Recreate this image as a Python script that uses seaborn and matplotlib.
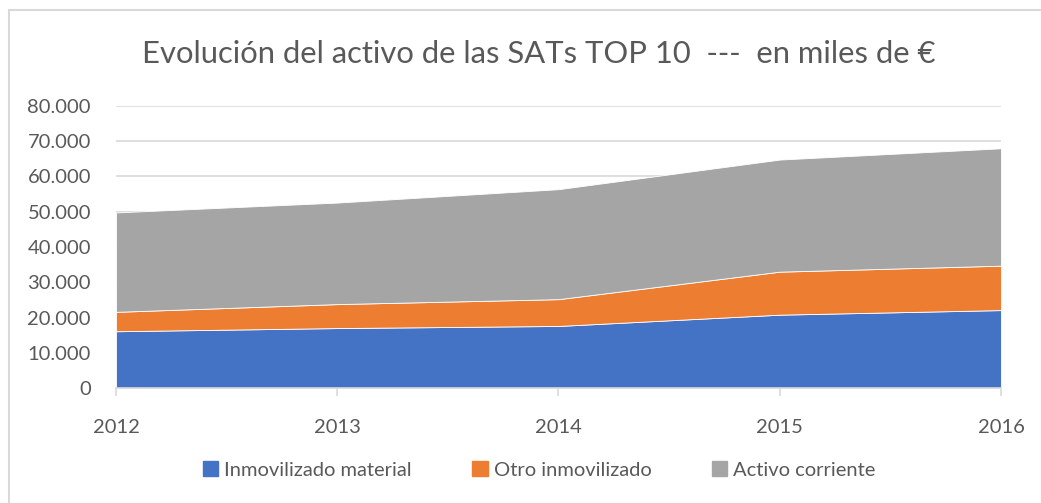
import numpy as np
import pandas as pd
import seaborn as sns
import matplotlib.pyplot as plt
from matplotlib.patches import Rectangle, Patch
from matplotlib.ticker import FuncFormatter

# data (miles de euros)
years = [2012, 2013, 2014, 2015, 2016]
inmovilizado_material = [16100, 17000, 17600, 20800, 22100]
otro_inmovilizado = [5500, 6800, 7600, 12200, 12600]
activo_corriente = [28200, 28800, 31200, 31800, 33300]
series_names = ['Inmovilizado material', 'Otro inmovilizado', 'Activo corriente']

blue = '#4472c4'
orange = '#ed7d31'
grey = '#a5a5a5'
text_color = '#595959'

sns.set_theme(style='white')
plt.rcParams['font.family'] = ['Lato', 'DejaVu Sans']

f = plt.figure(figsize=(10.41, 5.03), dpi=100)
ax = f.add_axes([0.1114, 0.2286, 0.8502, 0.5607])

ax.stackplot(years, inmovilizado_material, otro_inmovilizado, activo_corriente,
             colors=[blue, orange, grey], labels=series_names,
             edgecolor='white', linewidth=0.6)

ax.set_xlim(years[0], years[-1])
ax.set_ylim(0, 80000)
ax.set_yticks(np.arange(0, 80001, 10000))
ax.yaxis.set_major_formatter(FuncFormatter(lambda v, p: '{:,.0f}'.format(v).replace(',', '.')))
ax.set_xticks(years)
ax.set_axisbelow(True)
ax.yaxis.grid(True, color='#d9d9d9', linewidth=1.2)
ax.xaxis.grid(False)
for side in ['top', 'right', 'left']:
    ax.spines[side].set_visible(False)
ax.spines['bottom'].set_color('#d9d9d9')
ax.spines['bottom'].set_linewidth(1.2)
ax.tick_params(axis='x', bottom=True, length=6, width=1.2, color='#d9d9d9',
               labelsize=14.5, labelcolor=text_color, pad=16)
ax.tick_params(axis='y', left=False, labelsize=14.5, labelcolor=text_color, pad=12)

f.text(0.518, 0.893, 'Evolución del activo de las SATs TOP 10  ---  en miles de €',
       ha='center', va='center', fontsize=22.3, color=text_color)

handles = [Patch(color=c) for c in [blue, orange, grey]]
f.legend(handles, series_names, loc='center', bbox_to_anchor=(0.518, 0.066), ncol=3,
         frameon=False, fontsize=14.5, labelcolor=text_color, handlelength=0.75,
         handleheight=0.75, handletextpad=0.3, columnspacing=3.0)

# outer chart border
rect = Rectangle((9 / 1041, -0.1), 1.2, 1 - 10 / 503 + 0.1, transform=f.transFigure,
                 facecolor='none', edgecolor='#d9d9d9', linewidth=1.5)
f.patches.append(rect)

f.savefig('out.png', dpi=100)
